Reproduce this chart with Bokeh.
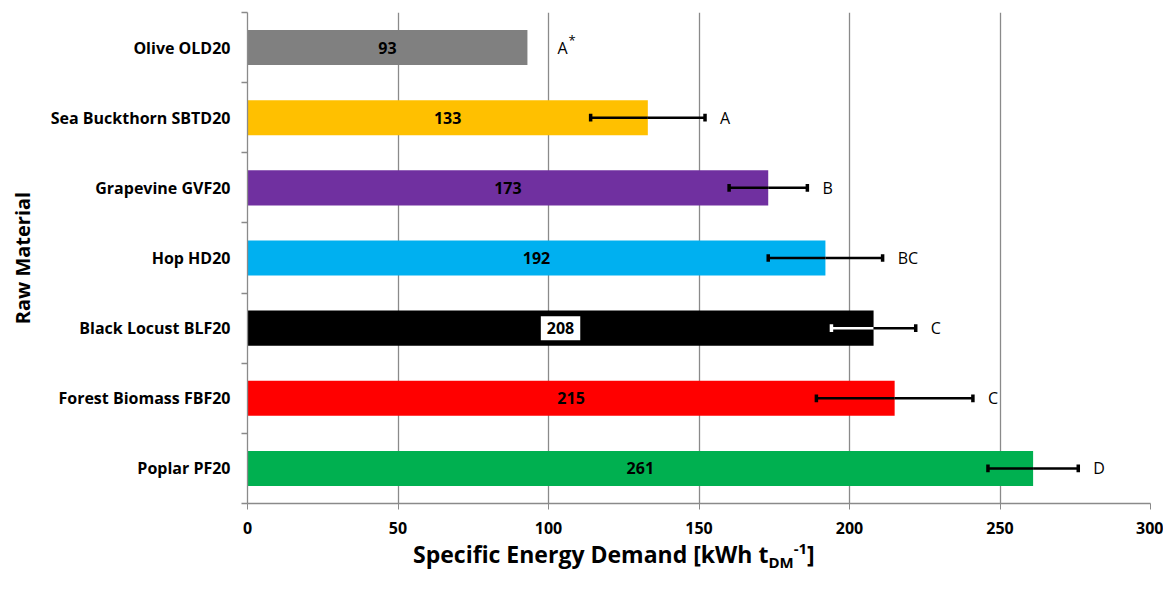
from bokeh.plotting import figure
from bokeh.models import ColumnDataSource, FixedTicker, Range1d, Div
from bokeh.layouts import column
from bokeh.embed import file_html
from bokeh.resources import INLINE
from bokeh.core.properties import value

# ---- data (top to bottom as in the chart) ----
materials = ["Olive OLD20", "Sea Buckthorn SBTD20", "Grapevine GVF20", "Hop HD20",
             "Black Locust BLF20", "Forest Biomass FBF20", "Poplar PF20"]
demand = [93, 133, 173, 192, 208, 215, 261]
errors = [0, 19, 13, 19, 14, 26, 15]
letters = ["A", "A", "B", "BC", "C", "C", "D"]
letter_sup = ["*", "", "", "", "", "", ""]
colors = ["#808080", "#FFC000", "#7030A0", "#00B0F0", "#000000", "#FF0000", "#00B050"]
x_ticks = [0, 50, 100, 150, 200, 250, 300]

n = len(materials)
ypos = [n - 1 - i for i in range(n)]  # Olive on top

FONT = "Open Sans"
GRID = "#8a8a8a"

p = figure(width=1163, height=538, output_backend="svg", toolbar_location=None,
           x_range=Range1d(0, 300), y_range=Range1d(-0.5, n - 0.5),
           min_border_left=247, min_border_right=13, min_border_top=12, min_border_bottom=35)
p.outline_line_color = None
p.background_fill_color = "white"
p.border_fill_color = "white"
p.margin = 0

# bars
src = ColumnDataSource(dict(y=ypos, v=demand, c=colors))
p.hbar(y="y", right="v", left=0, height=0.5, fill_color="c", line_color=None, source=src)

# value labels
norm = dict(y=[], x=[], t=[])
boxed = dict(y=[], x=[], t=[])
for yy, d, c in zip(ypos, demand, colors):
    tgt = boxed if c == "#000000" else norm
    tgt["y"].append(yy); tgt["x"].append(d / 2); tgt["t"].append(str(d))
p.text(x="x", y="y", text="t", source=ColumnDataSource(norm), text_align="center",
       text_baseline="middle", text_font=value(FONT), text_font_style="bold",
       text_font_size="16px", text_color="black")
p.text(x="x", y="y", text="t", source=ColumnDataSource(boxed), text_align="center",
       text_baseline="middle", text_font=value(FONT), text_font_style="bold",
       text_font_size="16px", text_color="black", background_fill_color="white",
       padding=6)

# error bars (inside part contrasts with bar colour)
ein = dict(y=[], x0=[], x1=[], c=[])
eout = dict(y=[], x0=[], x1=[])
caps = dict(x=[], y0=[], y1=[], c=[])
for yy, d, e, c in zip(ypos, demand, errors, colors):
    if e <= 0:
        continue
    lo, hi = d - e, d + e
    cin = "white" if c == "#000000" else "black"
    ein["y"].append(yy); ein["x0"].append(lo); ein["x1"].append(min(hi, d)); ein["c"].append(cin)
    if hi > d:
        eout["y"].append(yy); eout["x0"].append(max(lo, d)); eout["x1"].append(hi)
    caps["x"] += [lo, hi]
    caps["y0"] += [yy - 0.055, yy - 0.055]
    caps["y1"] += [yy + 0.055, yy + 0.055]
    caps["c"] += [cin if lo < d else "black", "black" if hi > d else cin]
p.segment(x0="x0", y0="y", x1="x1", y1="y", line_color="c", line_width=2.5,
          source=ColumnDataSource(ein))
p.segment(x0="x0", y0="y", x1="x1", y1="y", line_color="black", line_width=2.5,
          source=ColumnDataSource(eout))
p.segment(x0="x", y0="y0", x1="x", y1="y1", line_color="c", line_width=3.5,
          source=ColumnDataSource(caps))

# significance letters
lx = [(d + e + 5) if e > 0 else d + 10 for d, e in zip(demand, errors)]
p.text(x=lx, y=ypos, text=letters, text_align="left", text_baseline="middle",
       text_font=value(FONT), text_font_size="16px", text_color="black")
sx = [x for x, s in zip(lx, letter_sup) if s]
sy = [y for y, s in zip(ypos, letter_sup) if s]
st = [s for s in letter_sup if s]
p.text(x=sx, y=sy, text=st, x_offset=11, y_offset=-8, text_align="left",
       text_baseline="middle", text_font=value(FONT), text_font_size="13px",
       text_color="black")

# grid
p.xgrid.ticker = FixedTicker(ticks=x_ticks)
p.xgrid.grid_line_color = GRID
p.xgrid.grid_line_width = 1.3
p.ygrid.grid_line_color = None

# x axis
xa = p.xaxis[0]
xa.ticker = FixedTicker(ticks=x_ticks)
xa.axis_line_color = GRID
xa.axis_line_width = 1.3
xa.major_tick_line_color = GRID
xa.major_tick_out = 6
xa.major_tick_in = 0
xa.minor_tick_line_color = None
xa.major_label_text_font = FONT
xa.major_label_text_font_style = "bold"
xa.major_label_text_font_size = "16px"
xa.major_label_text_color = "black"
xa.major_label_standoff = 12

# y axis
ya = p.yaxis[0]
ya.ticker = FixedTicker(ticks=ypos, minor_ticks=[k - 0.5 for k in range(n + 1)])
ya.major_label_overrides = {yy: m for yy, m in zip(ypos, materials)}
ya.axis_line_color = GRID
ya.axis_line_width = 1.3
ya.major_tick_line_color = None
ya.major_tick_out = 0
ya.major_tick_in = 0
ya.minor_tick_line_color = GRID
ya.minor_tick_line_width = 1.3
ya.minor_tick_out = 6
ya.minor_tick_in = 0
ya.major_label_text_font = FONT
ya.major_label_text_font_style = "bold"
ya.major_label_text_font_size = "16px"
ya.major_label_text_color = "black"
ya.major_label_standoff = 11
ya.axis_label = "Raw Material"
ya.axis_label_text_font = FONT
ya.axis_label_text_font_style = "bold"
ya.axis_label_text_font_size = "20px"
ya.axis_label_text_color = "black"
ya.axis_label_standoff = 12

# x axis title with subscript / superscript (HTML text)
x_title = ("Specific Energy Demand [kWh t"
           "<sub style='font-size:15px'>DM</sub>"
           "<sup style='font-size:15px'>-1</sup>]")
title = Div(text=x_title, width=1163, height=50, margin=0,
            styles={"font-family": "'Open Sans', sans-serif", "font-weight": "bold",
                    "font-size": "23px", "color": "black", "line-height": "20px",
                    "padding-left": "413px", "white-space": "nowrap"})

layout = column(p, title, spacing=0)
open("out.html", "w").write(file_html(layout, INLINE))
